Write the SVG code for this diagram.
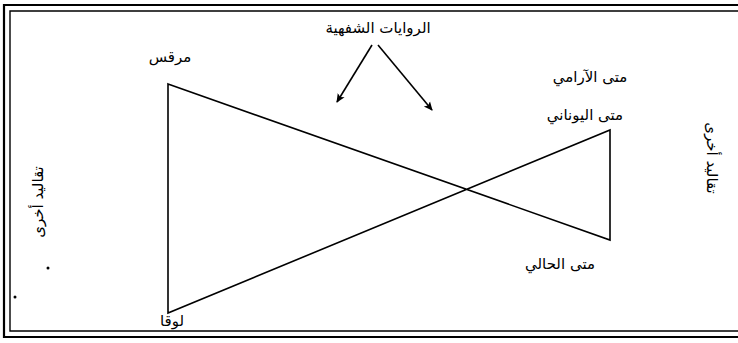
<svg xmlns="http://www.w3.org/2000/svg" width="738" height="343" viewBox="0 0 738 343">
<style>
.t{font-family:"DejaVu Sans",sans-serif;font-size:15px;fill:#000;text-anchor:middle}
.ln{stroke:#000;stroke-width:1.6;fill:none}
.fr{stroke:#000;fill:none}
</style>
<defs>
<marker id="ah" markerWidth="10" markerHeight="10" refX="8" refY="5" orient="auto" markerUnits="userSpaceOnUse">
<path d="M0,1 L9,5 L0,9 L2,5 Z" fill="#000"/>
</marker>
</defs>
<rect width="738" height="343" fill="#fff"/>
<g id="frame">
<path class="fr" stroke-width="2.2" d="M738,5 H4 V337 H738"/>
<path class="fr" stroke-width="1.4" d="M738,11 H10 V331 H738"/>
</g>
<g id="connectors">
<path class="ln" d="M168,84 L610,240 V130 L168,313 Z"/>
<line class="ln" x1="372" y1="45" x2="337" y2="102" marker-end="url(#ah)"/>
<line class="ln" x1="378" y1="45" x2="432" y2="110" marker-end="url(#ah)"/>
</g>
<g id="oral"><text class="t" x="378" y="33">الروايات  الشفهية</text></g>
<g id="mark"><text class="t" x="170" y="62">مرقس</text></g>
<g id="matt-aramaic"><text class="t" x="590" y="82">متى الآرامي</text></g>
<g id="matt-greek"><text class="t" x="585" y="120">متى  اليوناني</text></g>
<g id="matt-current"><text class="t" x="560" y="269">متى  الحالي</text></g>
<g id="luke"><text class="t" x="172" y="326">لوقا</text></g>
<g id="other-left"><text class="t" transform="translate(43,202) rotate(-90)">تقاليد أخرى</text></g>
<g id="other-right"><text class="t" transform="translate(707,158) rotate(90)">تقاليد أخرى</text></g>
<g id="specks" fill="#000">
<circle cx="48" cy="268" r="1.5"/>
<circle cx="15" cy="297" r="1.5"/>
</g>
</svg>
